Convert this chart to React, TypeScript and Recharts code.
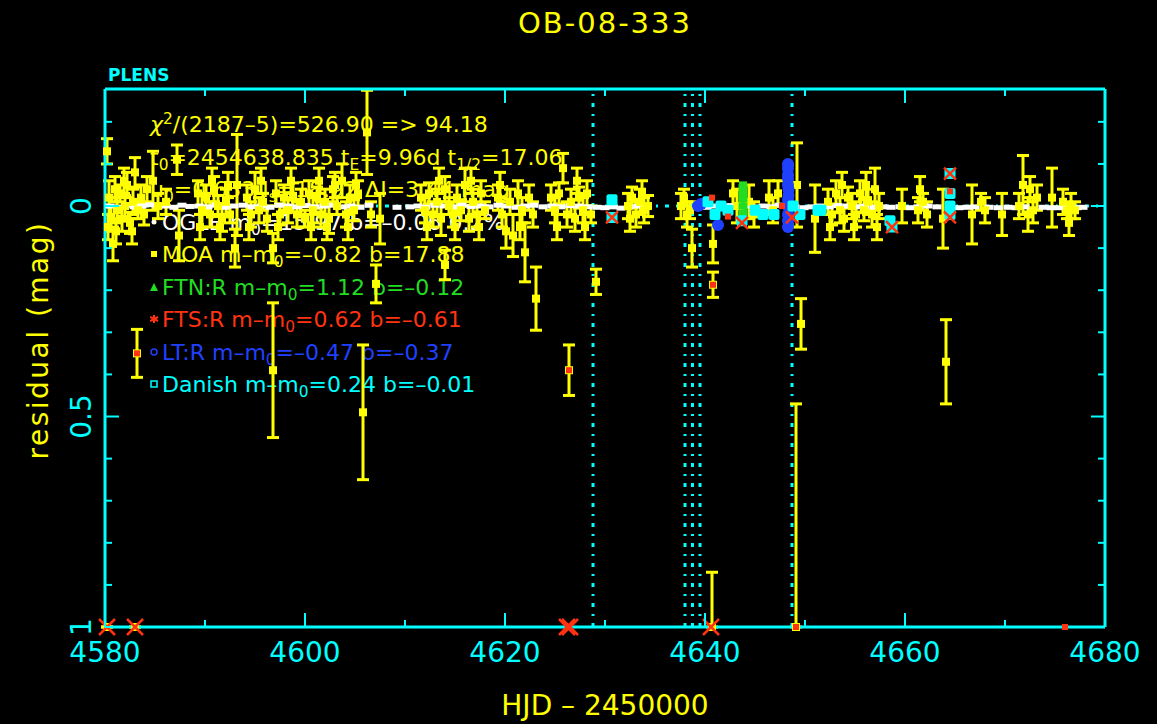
import React from "react"
import { ComposedChart, Scatter, XAxis, YAxis, ErrorBar, ReferenceLine } from "recharts"

const W = 1157
const H = 724

const YELLOW = "#ffff00"
const CYAN = "#00ffff"
const RED = "#ff3311"
const GREEN = "#22dd22"
const BLUE = "#2040ff"
const WHITE = "#ffffff"
const FONT = "'DejaVu Sans', sans-serif"

// axes: HJD - 2450000 and residual (mag)
const xTicks = [4580, 4590, 4600, 4610, 4620, 4630, 4640, 4650, 4660, 4670, 4680]
const yTicks = [-0.2, -0.1, 0, 0.1, 0.2, 0.3, 0.4, 0.5, 0.6, 0.7, 0.8, 0.9, 1]
const xDomain = [4580, 4680]
const yDomain = [-0.278, 1]
const yLabels: Record<string, string> = { "0": "0", "0.5": "0.5", "1": "1" }

// dotted vertical markers
const markerLines = [4628.8, 4638.0, 4638.75, 4639.5, 4648.7]

// MOA [t, residual, error]
const moaEarly: number[][] = [
  [4580.2, -0.13, 0.03], [4580.3, 0.05, 0.03], [4580.4, -0.02, 0.04], [4580.6, 0.03, 0.03],
  [4580.8, 0.09, 0.04], [4581.0, -0.04, 0.03], [4581.1, 0.06, 0.03], [4581.2, 0.01, 0.03],
  [4581.5, -0.03, 0.02], [4581.7, 0.03, 0.03], [4581.9, -0.06, 0.03], [4582.0, 0.0, 0.025],
  [4582.2, -0.05, 0.03], [4582.5, 0.04, 0.025], [4582.7, 0.06, 0.03], [4582.8, -0.01, 0.03],
  [4583.0, -0.08, 0.035], [4583.2, 0.35, 0.057], [4583.3, 0.01, 0.02], [4583.6, -0.02, 0.03],
  [4583.9, 0.02, 0.025], [4584.2, -0.04, 0.03], [4584.8, -0.06, 0.07], [4585.3, 0.0, 0.03],
  [4586.1, -0.01, 0.03], [4587.2, -0.11, 0.035], [4587.4, 0.07, 0.06], [4589.3, -0.03, 0.03],
  [4589.5, 0.05, 0.03], [4589.7, 0.01, 0.04], [4590.1, -0.02, 0.03], [4590.5, 0.02, 0.03],
  [4590.7, -0.06, 0.03], [4590.9, -0.04, 0.03], [4591.3, 0.0, 0.025], [4591.5, 0.05, 0.03],
  [4591.7, 0.03, 0.03], [4592.1, -0.01, 0.03], [4592.3, -0.05, 0.03], [4592.5, 0.02, 0.02],
  [4593.0, 0.1, 0.045], [4593.2, -0.05, 0.12], [4594.2, -0.02, 0.03], [4594.4, 0.05, 0.03],
  [4594.6, 0.02, 0.03], [4595.0, -0.04, 0.04], [4595.4, 0.01, 0.03], [4595.6, -0.06, 0.03],
  [4595.8, -0.01, 0.02], [4596.2, 0.03, 0.03], [4596.8, 0.1, 0.035], [4596.8, 0.39, 0.16],
  [4597.1, -0.03, 0.03], [4597.3, 0.05, 0.03], [4597.5, 0.02, 0.025], [4597.9, -0.02, 0.03],
  [4598.3, 0.01, 0.03], [4598.6, -0.06, 0.03], [4598.8, -0.02, 0.035], [4599.2, 0.02, 0.03],
  [4599.6, -0.01, 0.03], [4600.0, 0.03, 0.02], [4600.4, -0.03, 0.03], [4600.6, 0.05, 0.03],
  [4600.8, 0.01, 0.03], [4601.2, -0.02, 0.025], [4601.4, -0.06, 0.03], [4601.6, 0.02, 0.03],
  [4602.0, -0.01, 0.03], [4602.2, 0.05, 0.03], [4602.4, 0.03, 0.035], [4602.8, -0.04, 0.03],
  [4603.0, -0.05, 0.03], [4603.2, 0.0, 0.02], [4603.7, -0.06, 0.04], [4604.1, 0.02, 0.03],
  [4604.3, 0.05, 0.03], [4604.5, -0.02, 0.03], [4604.9, 0.01, 0.025], [4605.1, -0.05, 0.03],
  [4605.3, -0.03, 0.03], [4605.8, 0.49, 0.16], [4606.2, -0.175, 0.1],
]

const moaMid: number[][] = [
  [4606.6, 0.02, 0.03], [4607.1, 0.185, 0.045], [4607.5, 0.03, 0.06], [4611.6, -0.02, 0.03],
  [4612.0, 0.01, 0.03], [4612.2, 0.05, 0.03], [4612.4, -0.03, 0.025], [4612.8, 0.02, 0.03],
  [4613.2, -0.01, 0.03], [4613.4, -0.06, 0.03], [4613.6, 0.03, 0.04], [4614.0, -0.04, 0.03],
  [4614.0, 0.14, 0.035], [4614.4, 0.0, 0.02], [4614.8, 0.02, 0.03], [4615.0, 0.05, 0.03],
  [4615.2, -0.02, 0.03], [4615.6, 0.01, 0.025], [4616.0, -0.05, 0.04], [4616.4, 0.03, 0.03],
  [4616.6, -0.06, 0.03], [4616.8, -0.01, 0.03], [4617.2, 0.02, 0.03], [4617.4, 0.05, 0.03],
  [4617.6, -0.03, 0.03], [4618.0, 0.01, 0.02], [4619.3, -0.02, 0.03], [4619.5, -0.05, 0.03],
  [4619.7, 0.02, 0.03], [4620.1, 0.06, 0.04], [4620.5, -0.01, 0.03], [4620.8, 0.07, 0.05],
  [4621.3, -0.03, 0.03], [4621.5, 0.05, 0.03], [4621.7, 0.01, 0.03], [4622.0, 0.11, 0.07],
  [4622.4, -0.02, 0.03], [4622.8, 0.02, 0.03], [4623.1, 0.22, 0.075], [4624.6, -0.02, 0.03],
  [4625.0, 0.01, 0.03], [4625.2, 0.05, 0.03], [4625.4, -0.03, 0.025], [4625.8, -0.09, 0.035],
  [4626.2, 0.02, 0.03], [4626.4, 0.39, 0.06], [4626.6, -0.01, 0.03], [4627.0, 0.03, 0.03],
  [4627.2, -0.06, 0.03], [4627.4, -0.02, 0.025], [4627.8, 0.01, 0.03], [4628.0, 0.05, 0.03],
  [4628.2, -0.03, 0.03], [4628.6, 0.02, 0.02], [4629.1, 0.18, 0.03], [4632.3, 0.0, 0.03],
  [4632.5, 0.03, 0.03], [4632.7, -0.02, 0.025], [4633.1, 0.02, 0.03], [4633.5, -0.01, 0.03],
  [4633.7, -0.03, 0.03], [4633.9, 0.01, 0.03], [4634.3, 0.0, 0.025], [4637.6, 0.0, 0.03],
  [4637.9, -0.02, 0.02], [4638.2, 0.02, 0.03], [4638.5, 0.01, 0.02], [4638.7, 0.1, 0.045],
]

const moaLate: number[][] = [
  [4640.8, 0.09, 0.045], [4640.8, 0.187, 0.03], [4642.8, -0.03, 0.03], [4643.2, 0.0, 0.04],
  [4644.4, -0.01, 0.04], [4644.9, 0.02, 0.03], [4646.4, -0.02, 0.04], [4646.8, 0.01, 0.03],
  [4647.3, -0.03, 0.03], [4649.2, -0.05, 0.1], [4649.6, 0.28, 0.06], [4651.0, 0.03, 0.08],
  [4652.3, -0.01, 0.03], [4652.5, 0.05, 0.03], [4652.7, 0.02, 0.025], [4653.1, -0.03, 0.03],
  [4653.5, 0.01, 0.03], [4653.7, -0.05, 0.03], [4653.9, 0.03, 0.03], [4654.3, -0.02, 0.025],
  [4654.7, 0.0, 0.03], [4654.9, 0.05, 0.03], [4655.1, 0.02, 0.03], [4655.5, -0.03, 0.03],
  [4655.9, 0.01, 0.025], [4656.1, -0.05, 0.03], [4656.3, -0.01, 0.03], [4656.7, 0.02, 0.03],
  [4657.0, -0.04, 0.05], [4657.2, 0.05, 0.03], [4657.4, 0.0, 0.03], [4659.7, 0.0, 0.04],
  [4661.3, 0.01, 0.03], [4661.5, -0.04, 0.03], [4661.8, -0.01, 0.02], [4662.2, 0.02, 0.03],
  [4663.8, 0.03, 0.07], [4664.1, 0.37, 0.1], [4666.7, 0.02, 0.07], [4667.6, -0.01, 0.02],
  [4668.0, 0.01, 0.03], [4669.7, 0.02, 0.05], [4671.4, 0.0, 0.03], [4671.8, -0.05, 0.07],
  [4672.3, 0.02, 0.04], [4672.5, -0.04, 0.03], [4672.8, 0.01, 0.03], [4673.2, -0.02, 0.03],
  [4674.7, -0.02, 0.07], [4675.8, -0.01, 0.03], [4676.2, 0.01, 0.02], [4676.4, 0.04, 0.03],
  [4676.6, 0.0, 0.03], [4677.0, 0.01, 0.02],
]

// MOA points pinned at the bottom edge [t, residual, upward error]
const moaEdge: number[][] = [[4580.2, 1, 0], [4583.0, 1, 0], [4640.7, 1, 0.13], [4649.1, 1, 0.53]]

// OGLE [t, residual]
const ogle: number[][] = [
  [4580.5, 0], [4581.3, 0.003], [4582.1, -0.002], [4582.9, 0.002], [4583.7, 0], [4584.5, -0.003],
  [4585.3, 0.002], [4586.1, 0], [4586.9, 0.003], [4587.7, -0.002], [4588.5, 0.001], [4589.4, 0],
  [4590.3, 0.002], [4591.1, -0.002], [4592.0, 0.003], [4592.9, 0], [4593.8, -0.002], [4594.7, 0.002],
  [4595.6, 0], [4596.5, 0.003], [4597.4, -0.002], [4598.3, 0], [4599.2, 0.002], [4600.1, -0.001],
  [4601.0, 0.002], [4601.9, 0], [4602.8, -0.002], [4603.7, 0.002], [4604.6, 0], [4605.5, 0.003],
  [4606.4, -0.002], [4609.2, 0.003], [4610.5, 0.002], [4611.3, 0], [4612.1, 0.003], [4613.0, -0.002],
  [4613.9, 0], [4614.8, 0.002], [4615.7, -0.002], [4616.6, 0.001], [4617.5, 0], [4618.4, 0.002],
  [4619.3, -0.002], [4620.2, 0], [4621.1, 0.003], [4622.0, 0], [4622.9, -0.002], [4623.8, 0.002],
  [4624.7, 0], [4625.6, 0.002], [4626.5, -0.001], [4627.4, 0], [4628.3, 0.002], [4629.2, 0.003],
  [4630.0, 0.004], [4630.8, 0.002], [4631.6, 0.005], [4632.4, 0.002], [4633.3, 0], [4634.2, 0.002],
  [4640.2, 0.003], [4641.0, 0], [4641.8, 0.002], [4642.6, -0.001], [4643.4, 0.002], [4644.2, 0],
  [4645.0, 0.003], [4645.8, 0], [4646.6, 0.002], [4647.4, -0.002], [4648.2, 0], [4649.0, 0.002],
  [4649.9, 0.004], [4650.7, 0.002], [4651.5, 0], [4652.4, 0.002], [4653.3, -0.001], [4654.2, 0],
  [4655.1, 0.002], [4656.0, 0], [4656.9, 0.003], [4657.8, 0.002], [4658.6, 0.003], [4659.5, 0.002],
  [4660.5, 0.004], [4661.3, 0.002], [4662.3, 0], [4663.2, 0.002], [4665.4, 0.004], [4666.2, 0.003],
  [4667.0, 0.002], [4668.4, 0.003], [4669.3, 0.004], [4670.3, 0.003], [4671.1, 0.004], [4672.0, 0.002],
  [4673.8, 0.003], [4674.6, 0.004], [4675.4, 0.004], [4676.3, 0.003], [4677.2, 0.004], [4677.8, 0.003],
]

// FTN:R [t, residual, error]
const ftn: number[][] = [
  [4643.8, -0.045, 0.01], [4643.8, -0.03, 0.01], [4643.8, -0.015, 0.01], [4643.8, 0.0, 0.01], [4643.8, 0.015, 0.01],
]

// FTS:R [t, residual]
const ftsNearZero: number[][] = [[4630.7, 0.027], [4643.7, 0.04], [4648.7, 0.027], [4658.7, 0.05], [4664.5, 0.027], [4664.5, -0.077]]
const ftsEdge: number[][] = [[4580.2, 1], [4583.0, 1], [4626.2, 1], [4626.5, 1], [4640.6, 1]]
const ftsSmall: number[][] = [[4583.2, 0.35], [4626.4, 0.39], [4640.8, 0.187], [4640.7, -0.02], [4642.3, 0.025], [4647.7, 0.0], [4664.5, -0.035], [4649.1, 1], [4676.0, 1]]

// LT:R [t, residual]
const lt: number[][] = [
  [4639.3, 0.0], [4639.6, -0.005], [4641.3, 0.045], [4648.3, -0.1], [4648.3, -0.09], [4648.3, -0.075],
  [4648.3, -0.065], [4648.3, -0.05], [4648.35, -0.04], [4648.35, -0.025], [4648.3, -0.015], [4648.3, 0.0],
  [4648.3, 0.02], [4648.3, 0.035], [4648.3, 0.05],
]

// Danish [t, residual]
const danish: number[][] = [
  [4630.7, -0.015], [4630.7, 0.027], [4640.3, -0.01], [4641.0, 0.02], [4641.6, 0.0], [4642.3, 0.01],
  [4643.7, 0.035], [4645.0, 0.01], [4645.8, 0.02], [4646.9, 0.02], [4648.8, 0.0], [4649.5, 0.02],
  [4651.3, 0.01], [4651.6, 0.01], [4658.5, 0.035], [4658.7, 0.05], [4664.5, -0.077], [4664.5, -0.03],
  [4664.5, 0.0], [4664.5, 0.02],
]

// fit summary text
const chi2Text = "(2187–5)=526.90 => 94.18"
const obsNames = ["MOA", "FTN:R", "FTS:R", "LT:R", "Danish"]
const obsMm0 = ["–0.82", "1.12", "0.62", "–0.47", "0.24"]
const obsB = ["17.88", "–0.12", "–0.61", "–0.37", "–0.01"]
const obsColors = [YELLOW, GREEN, RED, BLUE, CYAN]

const withErr = (rows: number[][]) => rows.map(([t, r, e]) => ({ t, r, e }))
const edgeErr = (rows: number[][]) => rows.map(([t, r, e]) => ({ t, r, e: [e, 0] }))
const plain = (rows: number[][]) => rows.map(([t, r]) => ({ t, r }))

const moaData = withErr([...moaEarly, ...moaMid, ...moaLate])

const yellowSquare = (p: any) => <rect x={p.cx - 4} y={p.cy - 4} width={8} height={8} fill={YELLOW} />
const whiteDash = (p: any) => <rect x={p.cx - 4.5} y={p.cy - 2.5} width={9} height={5} fill={WHITE} />
const greenSquare = (p: any) => <rect x={p.cx - 4.5} y={p.cy - 3} width={9} height={6} fill={GREEN} />
const cyanSquare = (p: any) => <rect x={p.cx - 5.5} y={p.cy - 5.5} width={11} height={11} rx={2} fill={CYAN} />
const blueDot = (p: any) => <circle cx={p.cx} cy={p.cy} r={6} fill={BLUE} />
const redSquare = (p: any) => <rect x={p.cx - 3} y={p.cy - 3} width={6} height={6} fill={RED} />
const redCross = (half: number, sw: number) => (p: any) => (
  <g stroke={RED} strokeWidth={sw}>
    <line x1={p.cx - half} y1={p.cy - half} x2={p.cx + half} y2={p.cy + half} />
    <line x1={p.cx - half} y1={p.cy + half} x2={p.cx + half} y2={p.cy - half} />
  </g>
)

function XTick({ x, y, payload, top }: any) {
  const v = payload.value
  const major = v % 20 === 0
  const len = major ? 14 : 7
  return (
    <g>
      <line x1={x} x2={x} y1={y} y2={top ? y + len : y - len} stroke={CYAN} strokeWidth={2} />
      {!top && major && (
        <text x={x} y={y + 35} textAnchor="middle" fill={CYAN} fontSize={28} fontFamily={FONT}>
          {v}
        </text>
      )}
    </g>
  )
}

function YTick({ x, y, payload, right }: any) {
  const v = payload.value
  const major = Math.abs(v * 2 - Math.round(v * 2)) < 1e-6
  const len = major ? 14 : 7
  const label = yLabels[String(v)]
  return (
    <g>
      <line x1={x} x2={right ? x - len : x + len} y1={y} y2={y} stroke={CYAN} strokeWidth={2} />
      {!right && label && (
        <text transform={`translate(${x - 14},${y}) rotate(-90)`} textAnchor="middle" fill={CYAN} fontSize={28} fontFamily={FONT}>
          {label}
        </text>
      )}
    </g>
  )
}

const sub = (s: string) => <sub style={{ fontSize: "0.7em", verticalAlign: "-0.3em", lineHeight: 0 }}>{s}</sub>

function Symbol({ kind, color }: { kind: string; color: string }) {
  return (
    <svg width={10} height={8} style={{ verticalAlign: "4px", marginRight: 2 }}>
      {kind === "dot" && <circle cx={4} cy={4} r={2.5} fill={color} />}
      {kind === "square" && <rect x={1} y={1} width={6} height={6} fill={color} />}
      {kind === "tri" && <polygon points="4,0 8,8 0,8" fill={color} />}
      {kind === "star" && (
        <g stroke={color} strokeWidth={2}>
          <line x1={4} y1={0} x2={4} y2={8} />
          <line x1={0} y1={2} x2={8} y2={6} />
          <line x1={0} y1={6} x2={8} y2={2} />
        </g>
      )}
      {kind === "circle" && <circle cx={4} cy={4} r={3} fill="none" stroke={color} strokeWidth={1.5} />}
      {kind === "box" && <rect x={1} y={1} width={6} height={6} fill="none" stroke={color} strokeWidth={1.5} />}
    </svg>
  )
}

const obsSymbols = ["square", "tri", "star", "circle", "box"]

export default function App() {
  const lineTop = (i: number) => 114 + i * 32.5
  const textStyle = (i: number, color: string): React.CSSProperties => ({
    position: "absolute",
    left: 150,
    top: lineTop(i),
    color,
    fontSize: 22,
    lineHeight: "22px",
    fontFamily: FONT,
    whiteSpace: "nowrap",
  })

  return (
    <div style={{ position: "absolute", left: 0, top: 0, width: W, height: H, background: "#000", overflow: "hidden" }}>
      <svg width={W} height={H} style={{ position: "absolute", left: 0, top: 0 }}>
        <text x={605} y={33} textAnchor="middle" fill={YELLOW} fontSize={29} letterSpacing={2} fontFamily={FONT}>
          OB-08-333
        </text>
        <text x={108} y={81} fill={CYAN} fontSize={17} fontWeight="bold" fontFamily={FONT}>
          PLENS
        </text>
        <text x={605} y={715} textAnchor="middle" fill={YELLOW} fontSize={28} fontFamily={FONT}>
          HJD – 2450000
        </text>
        <text transform="translate(48,340) rotate(-90)" textAnchor="middle" fill={YELLOW} fontSize={28} letterSpacing={2.5} fontFamily={FONT}>
          residual (mag)
        </text>
      </svg>

      <div style={textStyle(0, YELLOW)}>
        <i>χ</i>
        <sup style={{ fontSize: "0.7em", lineHeight: 0 }}>2</sup>/{chi2Text}
      </div>
      <div style={textStyle(1, YELLOW)}>
        t{sub("0")}=2454638.835 t{sub("E")}=9.96d t{sub("1/2")}=17.06
      </div>
      <div style={textStyle(2, YELLOW)}>
        u{sub("0")}=0.633 I{sub("s")}=18.92 ΔI=3.44 mag
      </div>
      <div style={textStyle(3, WHITE)}>
        <Symbol kind="dot" color={WHITE} />
        OGLE m{sub("0")}=15.97 b=–0.06 0.2%
      </div>
      {obsNames.map((name, i) => (
        <div key={name} style={textStyle(4 + i, obsColors[i])}>
          <Symbol kind={obsSymbols[i]} color={obsColors[i]} />
          {name} m–m{sub("0")}={obsMm0[i]} b={obsB[i]}
        </div>
      ))}

      <div style={{ position: "absolute", left: 0, top: 0 }}>
        <ComposedChart width={W} height={H} margin={{ top: 69, right: 32, left: 45, bottom: 57 }}>
          <XAxis
            xAxisId="b"
            type="number"
            dataKey="t"
            domain={xDomain}
            ticks={xTicks}
            interval={0}
            height={40}
            axisLine={{ stroke: CYAN, strokeWidth: 3 }}
            tickLine={false}
            tickSize={0}
            tickMargin={0}
            tick={(p: any) => <XTick {...p} />}
          />
          <XAxis
            xAxisId="t"
            orientation="top"
            type="number"
            dataKey="t"
            domain={xDomain}
            ticks={xTicks}
            interval={0}
            height={20}
            axisLine={{ stroke: CYAN, strokeWidth: 3 }}
            tickLine={false}
            tickSize={0}
            tickMargin={0}
            tick={(p: any) => <XTick {...p} top />}
          />
          <YAxis
            yAxisId="l"
            type="number"
            dataKey="r"
            domain={yDomain}
            reversed
            ticks={yTicks}
            interval={0}
            width={60}
            axisLine={{ stroke: CYAN, strokeWidth: 3 }}
            tickLine={false}
            tickSize={0}
            tickMargin={0}
            tick={(p: any) => <YTick {...p} />}
          />
          <YAxis
            yAxisId="r"
            orientation="right"
            type="number"
            dataKey="r"
            domain={yDomain}
            reversed
            ticks={yTicks}
            interval={0}
            width={20}
            axisLine={{ stroke: CYAN, strokeWidth: 3 }}
            tickLine={false}
            tickSize={0}
            tickMargin={0}
            tick={(p: any) => <YTick {...p} right />}
          />

          <ReferenceLine y={0} xAxisId="b" yAxisId="l" stroke={CYAN} strokeWidth={3} strokeDasharray="4 7 2 7" />
          {markerLines.map((v) => (
            <ReferenceLine key={v} x={v} xAxisId="b" yAxisId="l" stroke={CYAN} strokeWidth={3} strokeDasharray="4 7 2 7" />
          ))}

          <Scatter data={plain(ogle)} xAxisId="t" yAxisId="r" shape={whiteDash} isAnimationActive={false} />
          <Scatter data={moaData} xAxisId="b" yAxisId="l" shape={yellowSquare} isAnimationActive={false}>
            <ErrorBar dataKey="e" direction="y" width={6} strokeWidth={3} stroke={YELLOW} />
          </Scatter>
          <Scatter data={edgeErr(moaEdge)} xAxisId="b" yAxisId="l" shape={yellowSquare} isAnimationActive={false}>
            <ErrorBar dataKey="e" direction="y" width={6} strokeWidth={3} stroke={YELLOW} />
          </Scatter>
          <Scatter data={plain(lt)} xAxisId="b" yAxisId="l" shape={blueDot} isAnimationActive={false} />
          <Scatter data={withErr(ftn)} xAxisId="b" yAxisId="l" shape={greenSquare} isAnimationActive={false}>
            <ErrorBar dataKey="e" direction="y" width={4} strokeWidth={3} stroke={GREEN} />
          </Scatter>
          <Scatter data={plain(danish)} xAxisId="b" yAxisId="l" shape={cyanSquare} isAnimationActive={false} />
          <Scatter data={plain(ftsNearZero)} xAxisId="b" yAxisId="l" shape={redCross(6, 2.5)} isAnimationActive={false} />
          <Scatter data={plain(ftsEdge)} xAxisId="b" yAxisId="l" shape={redCross(8, 2.5)} isAnimationActive={false} />
          <Scatter data={plain(ftsSmall)} xAxisId="b" yAxisId="l" shape={redSquare} isAnimationActive={false} />
        </ComposedChart>
      </div>
    </div>
  )
}
